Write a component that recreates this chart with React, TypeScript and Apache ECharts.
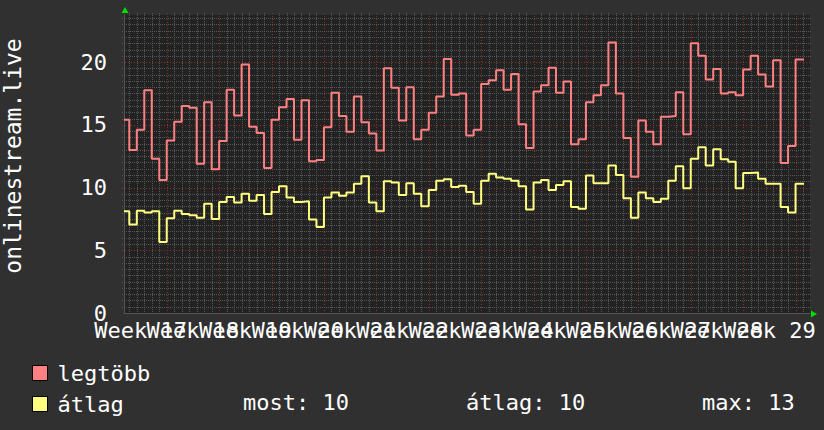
import React, { useEffect, useRef } from 'react';
import * as echarts from 'echarts';

// ---- data ----
const weekLabels = [
  'Week 17', 'Week 18', 'Week 19', 'Week 20', 'Week 21', 'Week 22', 'Week 23',
  'Week 24', 'Week 25', 'Week 26', 'Week 27', 'Week 28', 'Week 29',
];
const firstWeekStartDay = -1; // day index where "Week 17" begins
const daysPerWeek = 7;

// daily maximum ("legtöbb"), one value per day
const legtobb = [
  15.4, 13.0, 14.6, 17.75, 12.3, 10.6, 13.75, 15.25, 16.5, 16.35,
  11.9, 16.8, 11.45, 13.7, 17.8, 15.75, 19.8, 14.85, 14.35, 11.55,
  15.4, 16.4, 17.05, 13.8, 16.95, 12.1, 12.2, 14.8, 17.55, 15.7,
  14.45, 17.25, 15.2, 14.3, 12.95, 19.5, 17.95, 15.35, 18.0, 13.85,
  14.6, 15.95, 17.25, 20.25, 17.4, 17.5, 14.15, 14.6, 18.25, 18.55,
  19.35, 17.8, 19.05, 15.05, 13.15, 17.65, 18.15, 19.55, 17.55, 18.45,
  13.45, 13.85, 16.8, 17.35, 18.15, 21.55, 17.5, 13.95, 10.85, 15.35,
  14.45, 13.45, 15.65, 15.7, 17.6, 14.25, 21.5, 20.5, 18.6, 19.45,
  17.5, 17.6, 17.35, 19.4, 20.5, 19.0, 18.05, 20.15, 11.95, 13.3,
  20.2,
];

// daily average ("átlag")
const atlag = [
  8.1, 7.05, 8.15, 8.0, 8.1, 5.65, 7.55, 8.15, 7.9, 7.8,
  7.6, 8.7, 7.5, 8.85, 9.25, 8.8, 9.5, 8.95, 9.4, 7.9,
  9.65, 10.1, 9.2, 8.85, 8.9, 7.45, 6.85, 9.2, 9.6, 9.35,
  9.6, 10.3, 10.9, 8.8, 8.1, 10.5, 10.4, 9.4, 10.35, 9.5,
  8.5, 9.8, 10.55, 10.65, 10.05, 10.15, 9.65, 8.7, 10.55, 11.1,
  10.8, 10.7, 10.55, 10.1, 8.25, 10.4, 10.6, 9.8, 10.2, 10.5,
  8.45, 8.3, 10.95, 10.35, 10.35, 11.75, 11.0, 9.15, 7.6, 9.6,
  9.15, 8.85, 9.1, 10.55, 11.7, 9.95, 12.3, 13.2, 11.75, 13.05,
  12.25, 12.05, 9.95, 11.15, 11.2, 10.7, 10.3, 10.3, 8.45, 8.0,
  10.3,
];

const viewStartDay = 0.29;
const viewEndDay = 91.93;
const lastDataDay = 91.13;
const yTicks = [0, 5, 10, 15, 20];
const yMax = 23.75;
const yMinorStep = 0.5;
const seriesNames = ['legtöbb', 'átlag'];
const seriesColors = ['#ff8080', '#ffff80'];
const statLabels = ['most: 10', 'átlag: 10', 'max: 13'];
const axisTitle = 'onlinestream.live';

const FONT = '"DejaVu Sans Mono", monospace';

export default function App() {
  const ref = useRef<HTMLDivElement>(null);

  useEffect(() => {
    const chart = echarts.init(ref.current as HTMLDivElement, null, { renderer: 'svg' });

    const toPoints = (vals: number[]) => {
      const pts = vals.map((v, i) => [i === 0 ? viewStartDay : i, v]);
      pts.push([lastDataDay, vals[vals.length - 1]]);
      return pts;
    };

    const weekCenters = weekLabels.map(
      (_, i) => [firstWeekStartDay + daysPerWeek * i + daysPerWeek / 2, 0]
    );

    const vGrid: number[][] = [];
    for (let d = Math.ceil(viewStartDay); d <= Math.floor(viewEndDay); d++) {
      vGrid.push([d, 0, (d - firstWeekStartDay) % daysPerWeek === 0 ? 1 : 0]);
    }
    const hGrid: number[][] = [];
    for (let v = yMinorStep; v < yMax; v += yMinorStep) {
      hGrid.push([viewStartDay, v, Math.abs(v % 5) < 1e-6 ? 1 : 0]);
    }

    const minorColor = '#575757';
    const majorColor = '#8e2e2e';

    chart.setOption({
      animation: false,
      backgroundColor: '#303030',
      grid: {
        left: 124,
        right: 14,
        top: 15,
        bottom: 117,
        show: true,
        backgroundColor: '#222222',
        borderWidth: 0,
      },
      legend: {
        data: seriesNames,
        orient: 'vertical',
        left: 32,
        top: 362,
        padding: 0,
        itemWidth: 15,
        itemHeight: 15,
        itemGap: 9,
        icon: 'rect',
        itemStyle: { borderColor: '#000', borderWidth: 1 },
        textStyle: {
          color: '#ffffff',
          fontFamily: FONT,
          fontSize: 22,
          lineHeight: 20,
          padding: [0, 0, 0, 5],
        },
        selectedMode: false,
      },
      xAxis: {
        type: 'value',
        min: viewStartDay,
        max: viewEndDay,
        axisLine: { show: true, lineStyle: { color: '#555555', width: 1 } },
        axisTick: { show: false },
        splitLine: { show: false },
        axisLabel: { show: false },
      },
      yAxis: {
        type: 'value',
        min: 0,
        max: yMax,
        axisLine: { show: true, lineStyle: { color: '#555555', width: 1 } },
        axisTick: { show: false },
        splitLine: { show: false },
        axisLabel: {
          customValues: yTicks,
          color: '#ffffff',
          fontFamily: FONT,
          fontSize: 22,
          margin: 17,
        },
      },
      series: [
        {
          name: 'vgrid',
          type: 'custom',
          silent: true,
          z: 1,
          data: vGrid,
          encode: { x: 0, y: 1 },
          renderItem: (params: any, api: any) => {
            const cs = params.coordSys;
            const x = Math.round(api.coord([api.value(0), 0])[0]) + 0.5;
            const major = api.value(2) === 1;
            return {
              type: 'line',
              silent: true,
              shape: { x1: x, y1: cs.y - 2, x2: x, y2: cs.y + cs.height + 2 },
              style: {
                stroke: major ? majorColor : minorColor,
                lineWidth: 1,
                lineDash: major ? [1, 2] : [1, 1],
              },
            };
          },
        },
        {
          name: 'hgrid',
          type: 'custom',
          silent: true,
          z: 1,
          data: hGrid,
          encode: { x: 0, y: 1 },
          renderItem: (params: any, api: any) => {
            const cs = params.coordSys;
            const y = Math.round(api.coord([viewStartDay, api.value(1)])[1]) + 0.5;
            const major = api.value(2) === 1;
            return {
              type: 'line',
              silent: true,
              shape: { x1: cs.x - 2, y1: y, x2: cs.x + cs.width + 2, y2: y },
              style: {
                stroke: major ? majorColor : minorColor,
                lineWidth: 1,
                lineDash: major ? [1, 2] : [1, 1],
              },
            };
          },
        },
        {
          name: 'weeks',
          type: 'custom',
          silent: true,
          z: 2,
          data: weekCenters,
          encode: { x: 0, y: 1 },
          renderItem: (params: any, api: any) => {
            const cs = params.coordSys;
            const x = api.coord([api.value(0), 0])[0];
            return {
              type: 'text',
              silent: true,
              x,
              y: cs.y + cs.height + 6,
              style: {
                text: weekLabels[params.dataIndex],
                fill: '#ffffff',
                font: `22px ${FONT}`,
                align: 'center',
                verticalAlign: 'top',
              },
            };
          },
        },
        {
          name: seriesNames[0],
          type: 'line',
          step: 'end',
          showSymbol: false,
          z: 3,
          color: seriesColors[0],
          lineStyle: { color: seriesColors[0], width: 2 },
          data: toPoints(legtobb),
        },
        {
          name: seriesNames[1],
          type: 'line',
          step: 'end',
          showSymbol: false,
          z: 3,
          color: seriesColors[1],
          lineStyle: { color: seriesColors[1], width: 2 },
          data: toPoints(atlag),
        },
      ],
      graphic: [
        {
          type: 'polygon',
          silent: true,
          shape: { points: [[125, 7], [121.5, 13], [128.5, 13]] },
          style: { fill: '#00dd00' },
        },
        {
          type: 'polygon',
          silent: true,
          shape: { points: [[817, 314], [811, 310.5], [811, 317.5]] },
          style: { fill: '#00dd00' },
        },
        {
          type: 'text',
          silent: true,
          x: 13,
          y: 156,
          rotation: Math.PI / 2,
          style: {
            text: axisTitle,
            fill: '#ffffff',
            font: `23px ${FONT}`,
            align: 'center',
            verticalAlign: 'middle',
          },
        },
        ...statLabels.map((t, i) => ({
          type: 'text',
          silent: true,
          x: [243, 466, 702][i],
          y: 402,
          style: {
            text: t,
            fill: '#ffffff',
            font: `22px ${FONT}`,
            verticalAlign: 'middle',
          },
        })),
      ],
    });

    return () => chart.dispose();
  }, []);

  return (
    <div
      ref={ref}
      style={{ position: 'fixed', left: 0, top: 0, width: 824, height: 430 }}
    />
  );
}
